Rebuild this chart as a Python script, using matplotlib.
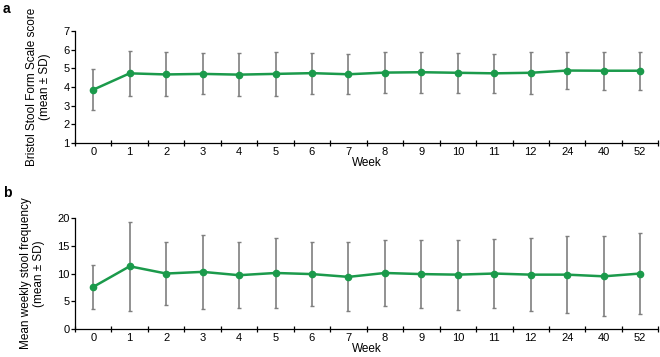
import numpy as np
import matplotlib.pyplot as plt

plt.rcParams["font.family"] = ["Liberation Sans", "DejaVu Sans"]

weeks = ["0", "1", "2", "3", "4", "5", "6", "7", "8", "9", "10", "11", "12", "24", "40", "52"]

# panel a: Bristol Stool Form Scale score
bsfs_mean = [3.85, 4.73, 4.67, 4.70, 4.66, 4.70, 4.74, 4.68, 4.77, 4.79, 4.76, 4.73, 4.76, 4.88, 4.87, 4.87]
bsfs_sd = [1.11, 1.22, 1.18, 1.10, 1.14, 1.19, 1.10, 1.08, 1.08, 1.09, 1.07, 1.06, 1.13, 0.97, 1.02, 1.02]

# panel b: weekly stool frequency
freq_mean = [7.6, 11.3, 10.0, 10.3, 9.7, 10.1, 9.9, 9.4, 10.1, 9.9, 9.8, 10.0, 9.8, 9.8, 9.5, 10.0]
freq_sd = [3.9, 8.0, 5.7, 6.6, 5.9, 6.2, 5.8, 6.2, 6.0, 6.1, 6.3, 6.2, 6.5, 6.9, 7.2, 7.3]

GREEN = "#1b9a4b"
GREY = "#7f7f7f"


def draw_panel(ax, mean, sd, ylim, yticks, ylabel):
    x = np.arange(len(weeks))
    ax.errorbar(x, mean, yerr=sd, fmt="none", ecolor=GREY, elinewidth=1.2,
                capsize=1.5, capthick=1.0, zorder=2)
    ax.plot(x, mean, color=GREEN, lw=1.8, marker="o", ms=4.5, zorder=3)

    ax.set_xlim(-0.5, len(weeks) - 0.5)
    ax.set_ylim(*ylim)
    ax.set_yticks(yticks)
    ax.set_xticks(x)
    ax.set_xticklabels(weeks)
    ax.set_xticks(np.arange(-0.5, len(weeks)), minor=True)
    ax.tick_params(axis="x", which="major", length=0, pad=3, labelsize=8)
    ax.tick_params(axis="x", which="minor", length=4, width=0.9, direction="inout")
    ax.tick_params(axis="y", length=3, width=0.9, pad=1, labelsize=8)

    for side in ["top", "right"]:
        ax.spines[side].set_visible(False)
    for side in ["left", "bottom"]:
        ax.spines[side].set_linewidth(0.9)

    ax.set_xlabel("Week", fontsize=8.5, labelpad=0)
    ax.set_ylabel(ylabel, fontsize=8.5, labelpad=9, linespacing=1.05)


fig = plt.figure(figsize=(6.6, 3.57), dpi=100)
ax_a = fig.add_axes([0.1136, 0.600, 0.884, 0.313])
ax_b = fig.add_axes([0.1136, 0.0776, 0.884, 0.3124])

draw_panel(ax_a, bsfs_mean, bsfs_sd, (1, 7), range(1, 8),
           "Bristol Stool Form Scale score\n(mean \u00b1 SD)")
draw_panel(ax_b, freq_mean, freq_sd, (0, 20), range(0, 21, 5),
           "Mean weekly stool frequency\n(mean \u00b1 SD)")

fig.text(0.004, 0.995, "a", fontsize=10, fontweight="bold", va="top")
fig.text(0.004, 0.48, "b", fontsize=10, fontweight="bold", va="top")

fig.savefig("out.png", dpi=100)
